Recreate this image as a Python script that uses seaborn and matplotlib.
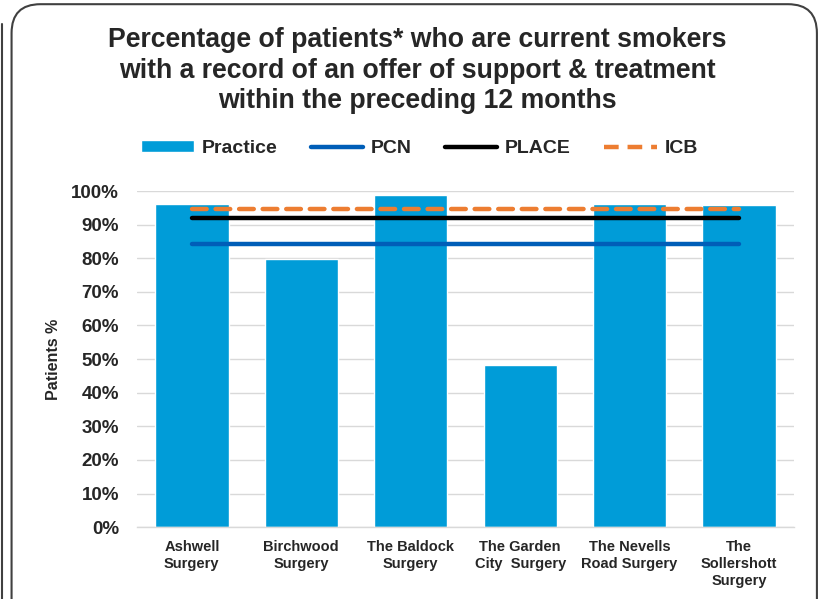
import matplotlib.pyplot as plt
import seaborn as sns
import numpy as np
from matplotlib.patches import FancyBboxPatch, Patch
from matplotlib.lines import Line2D
from matplotlib.ticker import PercentFormatter

# --- Data
practices = ['Ashwell\nSurgery', 'Birchwood\nSurgery', 'The Baldock\nSurgery',
             'The Garden\nCity  Surgery', 'The Nevells\nRoad Surgery',
             'The\nSollershott\nSurgery']
practice_pct = [0.962, 0.799, 0.989, 0.481, 0.962, 0.959]
pcn_pct = 0.843
place_pct = 0.921
icb_pct = 0.946

# --- General Plot Settings
sns.set_style("white")
plt.rcParams['font.family'] = ['Liberation Sans', 'DejaVu Sans']
plt.rcParams['font.weight'] = 'bold'

BAR_COLOR = '#009CD8'
PCN_COLOR = '#005EB8'
PLACE_COLOR = '#000000'
ICB_COLOR = '#ED7D31'

fig = plt.figure(figsize=(8.26, 5.99), dpi=100)
ax = fig.add_axes([0.166, 0.120, 0.795, 0.561])

sns.barplot(x=practices, y=practice_pct, color=BAR_COLOR, width=0.67,
            saturation=1, ax=ax, zorder=2)

n = len(practices)
xs = np.arange(n)
sns.lineplot(x=xs, y=[pcn_pct] * n, color=PCN_COLOR, lw=3.2, ax=ax,
             solid_capstyle='round', zorder=3)
sns.lineplot(x=xs, y=[place_pct] * n, color=PLACE_COLOR, lw=3.2, ax=ax,
             solid_capstyle='round', zorder=3)
sns.lineplot(x=xs, y=[icb_pct] * n, color=ICB_COLOR, lw=3.2, ax=ax,
             dashes=False, zorder=3)
ax.lines[-1].set_dashes([3.3, 2.0])
ax.lines[-1].set_dash_capstyle('round')

#  Axes
ax.set_xlim(-0.5, n - 0.5)
ax.set_ylim(0, 1.0)
ax.set_yticks(np.arange(0, 1.01, 0.1))
ax.yaxis.set_major_formatter(PercentFormatter(1.0, decimals=0))
ax.yaxis.grid(True, color='#D9D9D9', lw=1.0, zorder=0)
ax.set_axisbelow(True)
for side in ['top', 'right', 'left']:
    ax.spines[side].set_visible(False)
ax.spines['bottom'].set_color('#D9D9D9')
ax.spines['bottom'].set_linewidth(1.0)
ax.tick_params(axis='y', length=0, labelsize=13.5, pad=13)
ax.tick_params(axis='x', length=0, labelsize=10.5, pad=9)
for lbl in ax.get_xticklabels():
    lbl.set_fontweight('bold')
    lbl.set_linespacing(1.3)
for lbl in ax.get_yticklabels():
    lbl.set_fontweight('bold')
ax.set_ylabel('Patients %', fontsize=11.5, fontweight='bold', labelpad=7)
ax.set_xlabel('')

#  Title and legend
fig.text(0.505, 0.882, 'Percentage of patients* who are current smokers\n'
         'with a record of an offer of support & treatment\n'
         'within the preceding 12 months',
         ha='center', va='center', fontsize=19.2, fontweight='bold',
         linespacing=1.24)

handles = [Patch(facecolor=BAR_COLOR, label='Practice'),
           Line2D([0], [0], color=PCN_COLOR, lw=3.2, label='PCN'),
           Line2D([0], [0], color=PLACE_COLOR, lw=3.2, label='PLACE'),
           Line2D([0], [0], color=ICB_COLOR, lw=3.2, dashes=[3.3, 2.0],
                  label='ICB')]
fig.legend(handles=handles, loc='center', bbox_to_anchor=(0.508, 0.752),
           ncol=4, frameon=False, fontsize=14, handlelength=2.7,
           handleheight=0.6, columnspacing=1.7, handletextpad=0.4)

#  Panel border
fig.patches.append(FancyBboxPatch((0.014, -0.05), 0.975, 1.043,
                                  boxstyle='round,pad=0,rounding_size=0.035',
                                  transform=fig.transFigure, fill=False,
                                  ec='#404040', lw=1.5, mutation_aspect=1.38))
fig.add_artist(Line2D([0.003, 0.003], [0.0, 0.96], color='#404040', lw=1.5,
                      transform=fig.transFigure))

plt.savefig('out.png', dpi=100)
plt.close()
